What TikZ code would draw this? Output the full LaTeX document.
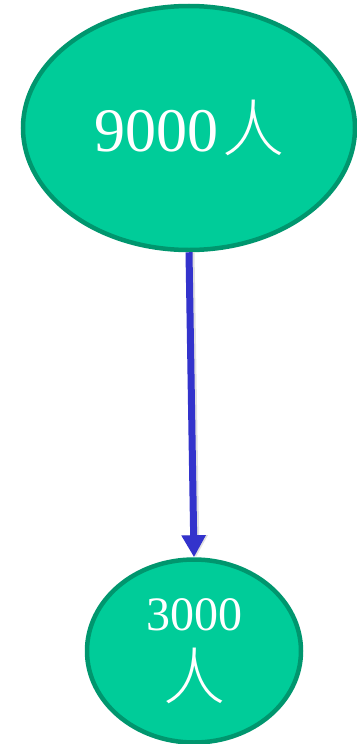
\documentclass[tikz,border=0pt]{standalone}
\usepackage{fontspec}
\setmainfont{Liberation Serif}
\newfontfamily\cjk{Noto Sans CJK SC Light}
\usepackage{xcolor}
\usepackage{tikz}
\usetikzlibrary{shapes.geometric,arrows.meta}
\definecolor{nodegreen}{RGB}{0,204,153}
\definecolor{nodeedge}{RGB}{0,150,110}
\definecolor{arrowblue}{RGB}{51,51,204}

\tikzset{
    count/.style={ellipse, fill=nodegreen, draw=nodeedge, line width=4.5pt,
        inner sep=0pt, text=white, align=center},
    flow/.style={draw=arrowblue, line width=7pt, -{Triangle[width=23pt,length=22pt]},
        preaction={draw=black!12, line width=7pt, transform canvas={xshift=2pt}}}
}

\begin{document}
\begin{tikzpicture}[x=1pt, y=-1pt]
    \useasboundingbox (0,0) rectangle (356,744);

    % Total
    \node[count, minimum width=332pt, minimum height=244pt] (total) at (189,128)
        {\fontsize{62}{62}\selectfont 9000\kern4pt{\cjk 人}};

    % Part
    \node[count, minimum width=214pt, minimum height=183pt] (part) at (194,651)
        {\fontsize{48}{48}\selectfont 3000\\[16pt] {\cjk\fontsize{62}{62}\selectfont 人}};

    \draw[flow] (total.south) -- (part.north);
\end{tikzpicture}
\end{document}
